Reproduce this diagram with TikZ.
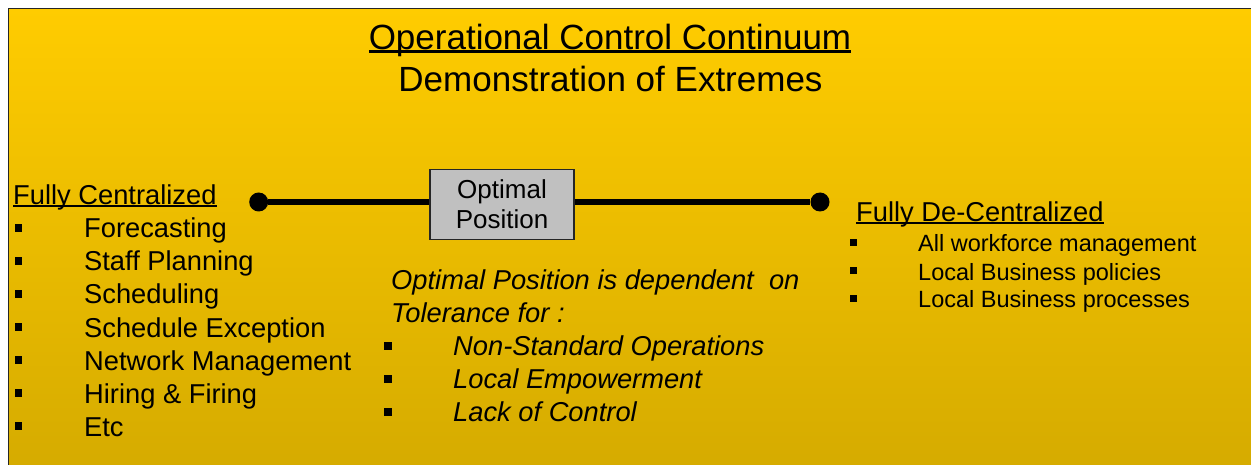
\documentclass[tikz,border=0pt]{standalone}
\usepackage{fontspec}
\setmainfont{Liberation Sans}
\usepackage{tikz}
\usetikzlibrary{positioning}
\definecolor{ambertop}{HTML}{FFCC00}
\definecolor{amberbot}{HTML}{D5AB00}
\definecolor{boxgray}{HTML}{C0C0C0}
\newcommand\fsz[1]{\fontsize{#1}{#1}\selectfont}
% underline just under the baseline: offset, thickness, text
\newcommand\ulbar[3]{\setbox0=\hbox{#3}\rlap{\rule[-#1]{\wd0}{#2}}\box0}

\begin{document}
\begin{tikzpicture}[x=1pt,y=-1pt,
  txt/.style={anchor=base west,inner sep=0pt,font=\fsz{27.3}},
  sq/.style={fill=black,inner sep=0pt,minimum size=7.3pt},
  dot/.style={circle,fill=black,inner sep=0pt,minimum size=19pt}]
  \useasboundingbox (0,0) rectangle (1251,465);
  \fill[white] (0,0) rectangle (1251,465);
  \clip (0,0) rectangle (1251,465);
  \shadedraw[top color=ambertop,bottom color=amberbot,draw=black!85,line width=1.5pt]
    (8.5,8.5) rectangle (1270,470);

  % heading
  \node[anchor=base,inner sep=0pt,font=\fsz{35}] (title) at (610,49.3)
    {\ulbar{3.4pt}{2.3pt}{Operational Control Continuum}};
  \node[anchor=base,inner sep=0pt,font=\fsz{35}] (subtitle) at (610.5,91.7)
    {Demonstration of Extremes};

  % the continuum
  \node[dot] (lend) at (258.7,202) {};
  \node[dot] (rend) at (820,202) {};
  \node[draw=black!85,fill=boxgray,line width=1.3pt,minimum width=144pt,
    minimum height=70pt,inner sep=0pt,align=center,font=\fontsize{26}{30}\selectfont]
    (opt) at (502,204.3) {Optimal\\Position};
  \draw[line width=6pt] (lend) -- (opt.west |- lend);
  \draw[line width=6pt] (opt.east |- rend) -- (rend);

  % fully centralized
  \node[txt] (cen) at (13,205) {\ulbar{2.2pt}{1.8pt}{Fully Centralized}};
  \foreach \t [count=\i] in {Forecasting,Staff Planning,Scheduling,Schedule Exception,
      Network Management,Hiring \& Firing,Etc} {
    \node[txt] (cen\i) at (84,{205+33*\i}) {\t};
    \node[sq] (cenb\i) at (18.5,{195+33*\i}) {};
  }

  % tolerance
  \node[txt,font=\fsz{27.3}\itshape] (tol1) at (391,290)
    {Optimal Position is dependent\ \ on};
  \node[txt,font=\fsz{27.3}\itshape] (tol2) at (391,322) {Tolerance for :};
  \foreach \t [count=\i] in {Non-Standard Operations,Local Empowerment,Lack of Control} {
    \node[txt,font=\fsz{27.3}\itshape] (tol\i) at (453,{322+33*\i}) {\t};
    \node[sq] (tolb\i) at (388,{313+33*\i}) {};
  }

  % fully de-centralized
  \node[txt] (dec) at (856,221.5) {\ulbar{2.2pt}{1.8pt}{Fully De-Centralized}};
  \foreach \t [count=\i] in {All workforce management,Local Business policies,
      Local Business processes} {
    \node[txt,font=\fsz{23.5}] (dec\i) at (918,{224+28*\i}) {\t};
    \node[sq,minimum size=6.5pt] (decb\i) at (853.5,{214.5+28*\i}) {};
  }
\end{tikzpicture}
\end{document}
